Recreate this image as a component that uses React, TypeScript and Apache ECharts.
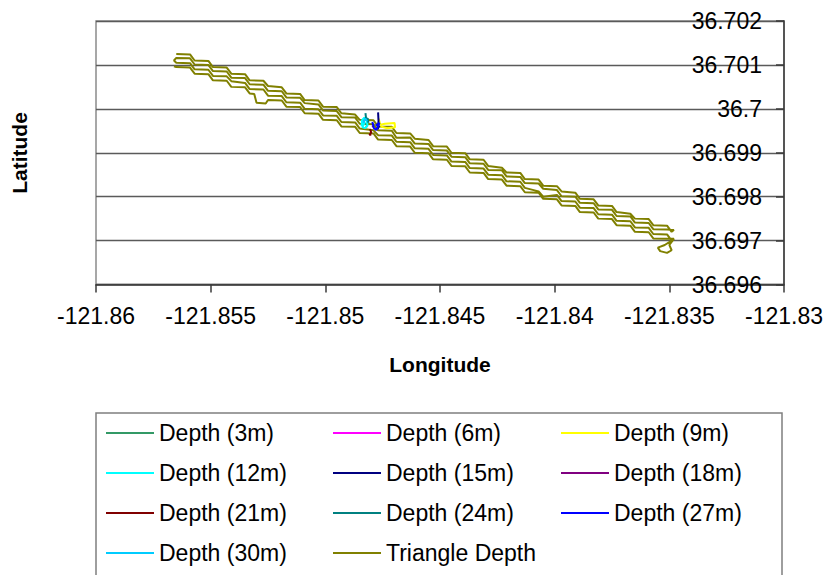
import React, { useEffect, useRef } from "react";
import * as echarts from "echarts";

const FONT = 'Arial, "Liberation Sans", Helvetica, sans-serif';

// Axis ranges / ticks
const lonMin = -121.86;
const lonMax = -121.83;
const lonStep = 0.005;
const latMin = 36.696;
const latMax = 36.702;
const latStep = 0.001;

const xTitle = "Longitude";
const yTitle = "Latitude";

// Series names and colours
const seriesNames = [
  "Depth (3m)",
  "Depth (6m)",
  "Depth (9m)",
  "Depth (12m)",
  "Depth (15m)",
  "Depth (18m)",
  "Depth (21m)",
  "Depth (24m)",
  "Depth (27m)",
  "Depth (30m)",
  "Triangle Depth",
];
const seriesColors = [
  "#339966",
  "#FF00FF",
  "#FFFF00",
  "#00FFFF",
  "#000080",
  "#800080",
  "#800000",
  "#008080",
  "#0000FF",
  "#00CCFF",
  "#808000",
];

const triangleLeg1: number[][] = [
  [-121.8565, 36.70125], [-121.8559, 36.70124], [-121.8557, 36.7011], [-121.8551, 36.70109],
  [-121.8549, 36.70095], [-121.8543, 36.70094], [-121.8541, 36.7008], [-121.8535, 36.70079],
  [-121.8533, 36.70065], [-121.8527, 36.70064], [-121.8525, 36.70052], [-121.8519, 36.70049],
  [-121.8517, 36.70035], [-121.8511, 36.70034], [-121.8509, 36.7002], [-121.8503, 36.70019],
  [-121.8501, 36.70005], [-121.8495, 36.70004], [-121.8493, 36.6999], [-121.8487, 36.69987],
  [-121.8485, 36.69975], [-121.8479, 36.69974], [-121.8477, 36.6996], [-121.8471, 36.69959],
  [-121.8469, 36.69945], [-121.8463, 36.69944], [-121.8461, 36.69932], [-121.8455, 36.69929],
  [-121.8453, 36.69915], [-121.8447, 36.69914], [-121.8445, 36.699], [-121.8439, 36.69899],
  [-121.8437, 36.69885], [-121.8431, 36.69884], [-121.8429, 36.6987], [-121.8423, 36.69866],
  [-121.8421, 36.69855], [-121.8415, 36.69854], [-121.8413, 36.6984], [-121.8407, 36.69839],
  [-121.8405, 36.69825], [-121.8399, 36.69824], [-121.8397, 36.69812], [-121.8391, 36.69809],
  [-121.8389, 36.69795], [-121.8383, 36.69794], [-121.8381, 36.6978], [-121.8375, 36.69779],
  [-121.8373, 36.69765], [-121.8367, 36.69761], [-121.8365, 36.6975], [-121.8359, 36.69749],
  [-121.8357, 36.69735], [-121.8351, 36.69734], [-121.8349, 36.6972], [-121.8348, 36.69724],
];
const triangleLeg2: number[][] = [
  [-121.8351, 36.69725], [-121.8357, 36.69726], [-121.8359, 36.6974], [-121.8365, 36.69741],
  [-121.8367, 36.69755], [-121.8373, 36.69756], [-121.8375, 36.6977], [-121.8381, 36.69771],
  [-121.8383, 36.69785], [-121.8389, 36.69786], [-121.8391, 36.698], [-121.8397, 36.69801],
  [-121.8399, 36.69815], [-121.8405, 36.69818], [-121.8407, 36.6983], [-121.8413, 36.69831],
  [-121.8415, 36.69845], [-121.8421, 36.69846], [-121.8423, 36.6986], [-121.8429, 36.69861],
  [-121.8431, 36.69875], [-121.8437, 36.69876], [-121.8439, 36.6989], [-121.8445, 36.69891],
  [-121.8447, 36.69905], [-121.8453, 36.69906], [-121.8455, 36.6992], [-121.8461, 36.69921],
  [-121.8463, 36.69935], [-121.8469, 36.69934], [-121.8471, 36.6995], [-121.8477, 36.69951],
  [-121.8479, 36.69965], [-121.8485, 36.69966], [-121.8487, 36.6998], [-121.8493, 36.69981],
  [-121.8495, 36.69995], [-121.8501, 36.69996], [-121.8503, 36.7001], [-121.8509, 36.70013],
  [-121.8511, 36.70025], [-121.8517, 36.70026], [-121.8519, 36.7004], [-121.8525, 36.70041],
  [-121.8527, 36.70055], [-121.8533, 36.70056], [-121.8535, 36.7007], [-121.8541, 36.70071],
  [-121.8543, 36.70085], [-121.8549, 36.70086], [-121.8551, 36.701], [-121.8557, 36.70101],
  [-121.8559, 36.70115], [-121.8565, 36.70116], [-121.8566, 36.7011],
];
const triangleLeg3: number[][] = [
  [-121.8565, 36.70105], [-121.8559, 36.70104], [-121.8557, 36.7009], [-121.8551, 36.70089],
  [-121.8549, 36.70075], [-121.8543, 36.70074], [-121.8541, 36.70063], [-121.8535, 36.70059],
  [-121.8533, 36.70045], [-121.8527, 36.70044], [-121.8525, 36.7003], [-121.8519, 36.70029],
  [-121.8517, 36.70015], [-121.8511, 36.70014], [-121.8509, 36.7], [-121.8503, 36.69999],
  [-121.8501, 36.69985], [-121.8495, 36.69984], [-121.8493, 36.6997], [-121.8487, 36.69969],
  [-121.8485, 36.69955], [-121.8479, 36.69951], [-121.8477, 36.6994], [-121.8471, 36.69939],
  [-121.8469, 36.69925], [-121.8463, 36.69924], [-121.8461, 36.6991], [-121.8455, 36.69909],
  [-121.8453, 36.69895], [-121.8447, 36.69894], [-121.8445, 36.6988], [-121.8439, 36.69879],
  [-121.8437, 36.69865], [-121.8431, 36.69864], [-121.8429, 36.6985], [-121.8423, 36.69849],
  [-121.8421, 36.69835], [-121.8415, 36.69834], [-121.8413, 36.6982], [-121.8407, 36.69812],
  [-121.8405, 36.698], [-121.8399, 36.69804], [-121.8397, 36.6979], [-121.8391, 36.69789],
  [-121.8389, 36.69775], [-121.8383, 36.69774], [-121.8381, 36.6976], [-121.8375, 36.69759],
  [-121.8373, 36.69745], [-121.8367, 36.69744], [-121.8365, 36.6973], [-121.8359, 36.69729],
  [-121.8357, 36.69715], [-121.8351, 36.69714], [-121.8349, 36.697], [-121.8352, 36.6969],
  [-121.8355, 36.69684], [-121.8354, 36.69676], [-121.8351, 36.69672], [-121.8349, 36.69678],
  [-121.835, 36.6969], [-121.8348, 36.69704],
];
const triangleLeg4: number[][] = [
  [-121.8351, 36.69704], [-121.8357, 36.69705], [-121.8359, 36.69719], [-121.8365, 36.6972],
  [-121.8367, 36.69734], [-121.8373, 36.69735], [-121.8375, 36.69749], [-121.8381, 36.6975],
  [-121.8383, 36.69764], [-121.8389, 36.69765], [-121.8391, 36.69779], [-121.8397, 36.6978],
  [-121.8399, 36.69794], [-121.8405, 36.69795], [-121.8407, 36.69809], [-121.8413, 36.6981],
  [-121.8415, 36.69824], [-121.8421, 36.69825], [-121.8423, 36.69839], [-121.8429, 36.6984],
  [-121.8431, 36.69854], [-121.8437, 36.69855], [-121.8439, 36.69869], [-121.8445, 36.6987],
  [-121.8447, 36.69884], [-121.8453, 36.69885], [-121.8455, 36.69899], [-121.8461, 36.699],
  [-121.8463, 36.69914], [-121.8469, 36.69915], [-121.8471, 36.69929], [-121.8477, 36.6993],
  [-121.8479, 36.69944], [-121.8485, 36.69945], [-121.8487, 36.69959], [-121.8493, 36.6996],
  [-121.8495, 36.69974], [-121.8501, 36.69975], [-121.8503, 36.69989], [-121.8509, 36.6999],
  [-121.8511, 36.70004], [-121.8517, 36.70005], [-121.8519, 36.70019], [-121.8525, 36.7002],
  [-121.8526, 36.70012], [-121.853, 36.70014], [-121.8531, 36.70034], [-121.8533, 36.70035],
  [-121.8535, 36.70049], [-121.8541, 36.7005], [-121.8543, 36.70064], [-121.8549, 36.70065],
  [-121.8551, 36.70079], [-121.8557, 36.7008], [-121.8559, 36.70094], [-121.8565, 36.70095],
  [-121.8566, 36.70097],
];

// Depth tracks (small cluster near the middle)
const depth3m: number[][] = [[-121.84825, 36.69968], [-121.84818, 36.69962], [-121.84822, 36.69958]];
const depth6m: number[][] = [[-121.8484, 36.69974], [-121.84832, 36.6997], [-121.84836, 36.69965]];
const depth9m: number[][] = [
  [-121.84768, 36.69978], [-121.8476, 36.69964], [-121.8474, 36.69966], [-121.84698, 36.69968],
  [-121.84696, 36.69958], [-121.8473, 36.69956], [-121.8476, 36.6996],
];
const depth12m: number[][] = [
  [-121.84842, 36.6996], [-121.8484, 36.69974], [-121.8483, 36.6998], [-121.8482, 36.69975],
  [-121.84816, 36.69962], [-121.84826, 36.69956], [-121.84838, 36.69958], [-121.84828, 36.6997],
  [-121.84836, 36.69966],
];
const depth15m: number[][] = [[-121.8477, 36.69992], [-121.84768, 36.69972], [-121.84772, 36.69954], [-121.84764, 36.69962]];
const depth18m: number[][] = [[-121.84795, 36.69962], [-121.8479, 36.69958]];
const depth21m: number[][] = [[-121.84805, 36.69954], [-121.848, 36.69946], [-121.84808, 36.6994], [-121.848, 36.69942]];
const depth24m: number[][] = [[-121.84825, 36.6999], [-121.84822, 36.69976], [-121.84815, 36.69978], [-121.84812, 36.69968]];
const depth27m: number[][] = [
  [-121.84795, 36.6997], [-121.84788, 36.69956], [-121.84778, 36.69952], [-121.8477, 36.6996],
  [-121.84764, 36.69968], [-121.8478, 36.69962],
];
const depth30m: number[][] = [[-121.84834, 36.69968], [-121.84826, 36.69978], [-121.84818, 36.69972]];

const legendColumns = [
  ["Depth (3m)", "Depth (12m)", "Depth (21m)", "Depth (30m)"],
  ["Depth (6m)", "Depth (15m)", "Depth (24m)", "Triangle Depth"],
  ["Depth (9m)", "Depth (18m)", "Depth (27m)"],
];

export default function App() {
  const ref = useRef<HTMLDivElement>(null);

  useEffect(() => {
    if (!ref.current) return;
    const chart = echarts.init(ref.current, undefined, { renderer: "svg" });

    const depthData = [
      depth3m, depth6m, depth9m, depth12m, depth15m, depth18m,
      depth21m, depth24m, depth27m, depth30m,
    ];
    const triangle = [...triangleLeg1, ...triangleLeg2, ...triangleLeg3, ...triangleLeg4];

    const mk = (name: string, data: number[][], color: string) => ({
      name,
      type: "line",
      data,
      symbol: "none",
      showSymbol: false,
      color,
      lineStyle: { color, width: 2 },
      emphasis: { disabled: true },
    });

    const series: any[] = [mk(seriesNames[10], triangle, seriesColors[10])];
    depthData.forEach((d, i) => series.push(mk(seriesNames[i], d, seriesColors[i])));

    const colX = [106, 333, 561];
    const legends = legendColumns.map((col, i) => ({
      data: col,
      orient: "vertical",
      left: colX[i],
      top: 421.5,
      padding: 0,
      itemGap: 17,
      itemWidth: 48,
      itemHeight: 2,
      icon: "rect",
      selectedMode: false,
      textStyle: { fontFamily: FONT, fontSize: 23, color: "#000", lineHeight: 23 },
    }));

    chart.setOption({
      animation: false,
      backgroundColor: "#fff",
      grid: {
        left: 96,
        right: 44,
        top: 21,
        bottom: 290.5,
        show: true,
        borderColor: "#8a8a8a",
        borderWidth: 1.5,
        backgroundColor: "transparent",
      },
      xAxis: {
        type: "value",
        min: lonMin,
        max: lonMax,
        interval: lonStep,
        axisLine: { show: true, onZero: false, lineStyle: { color: "#3a3a3a", width: 1.5 } },
        axisTick: { show: true, inside: false, length: 8, lineStyle: { color: "#3a3a3a", width: 1.5 } },
        splitLine: { show: false },
        axisLabel: {
          margin: 20,
          fontFamily: FONT,
          fontSize: 23,
          color: "#000",
          formatter: (v: number) => String(+v.toFixed(3)),
        },
      },
      yAxis: {
        type: "value",
        position: "right",
        min: latMin,
        max: latMax,
        interval: latStep,
        axisLine: { show: true, onZero: false, lineStyle: { color: "#3a3a3a", width: 1.5 } },
        axisTick: { show: true, inside: true, length: 8, lineStyle: { color: "#3a3a3a", width: 1.5 } },
        splitLine: { show: true, lineStyle: { color: "#5a5a5a", width: 1.3 } },
        axisLabel: {
          inside: true,
          margin: 22,
          fontFamily: FONT,
          fontSize: 23,
          color: "#000",
          formatter: (v: number) => String(+v.toFixed(3)),
        },
      },
      legend: legends,
      graphic: [
        {
          type: "rect",
          shape: { x: 96, y: 413, width: 686, height: 200 },
          style: { fill: "none", stroke: "#7f7f7f", lineWidth: 1.5 },
          silent: true,
        },
        {
          type: "text",
          x: 440,
          y: 364,
          style: {
            text: xTitle,
            fontFamily: FONT,
            fontSize: 21,
            fontWeight: "bold",
            fill: "#000",
            align: "center",
            verticalAlign: "middle",
          },
        },
        {
          type: "text",
          x: 19,
          y: 153,
          rotation: Math.PI / 2,
          style: {
            text: yTitle,
            fontFamily: FONT,
            fontSize: 21,
            fontWeight: "bold",
            fill: "#000",
            align: "center",
            verticalAlign: "middle",
          },
        },
      ],
      series,
    });

    return () => chart.dispose();
  }, []);

  return (
    <div
      ref={ref}
      style={{ position: "fixed", left: 0, top: 0, width: 828, height: 575, background: "#fff" }}
    />
  );
}
